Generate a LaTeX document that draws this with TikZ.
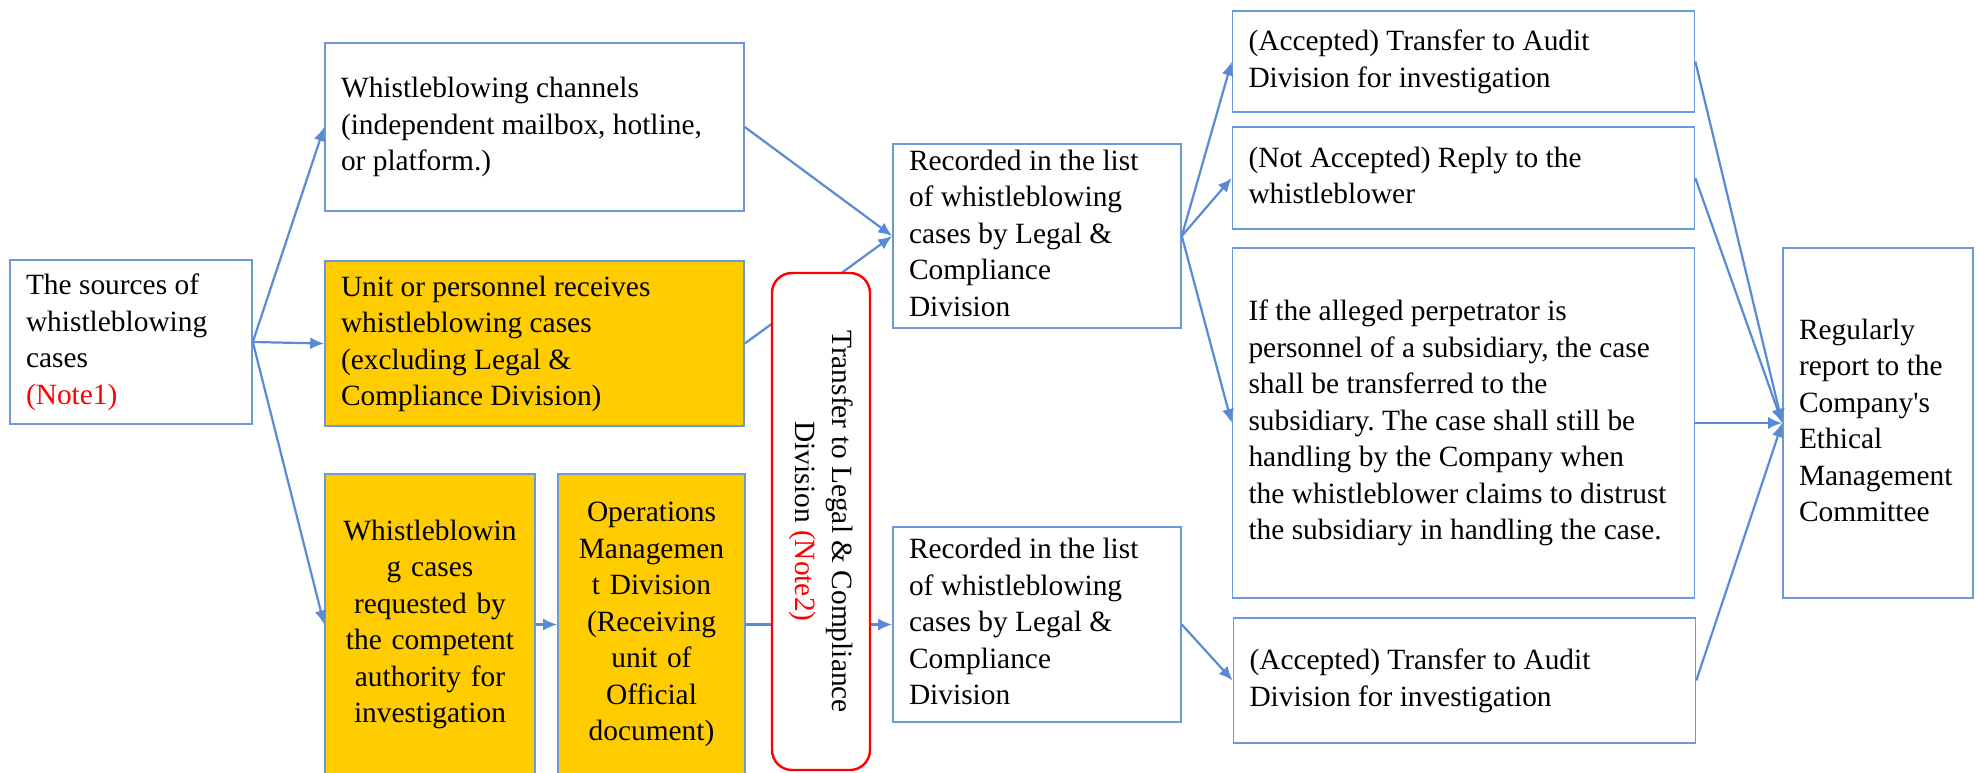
\documentclass[tikz,border=0pt]{standalone}
\usepackage{fontspec}
\setmainfont{Liberation Serif}
\frenchspacing
\usetikzlibrary{arrows.meta}
\definecolor{boxblue}{HTML}{6A9AD8}
\definecolor{lineblue}{HTML}{5A8AD6}
\definecolor{gold}{HTML}{FFCC00}
% Text links im Kasten, ohne Umbruch
\newcommand{\boxtext}[2]{\makebox[#1][l]{\begin{tabular}{@{}l@{}}#2\end{tabular}}}

\begin{document}
\begin{tikzpicture}[x=0.5pt,y=-0.5pt,
    font=\fontsize{14.7pt}{18.25pt}\selectfont,
    box/.style={draw=boxblue,line width=0.8pt,fill=white,inner xsep=8pt,inner ysep=0pt},
    goldbox/.style={box,fill=gold,align=center,inner xsep=4pt},
    notebox/.style={draw=red,line width=1.2pt,fill=white,rounded corners=10pt,rotate=-90,align=center},
    arr/.style={draw=lineblue,line width=1.1pt,-{Latex[length=7pt,width=6pt]}}]
    \useasboundingbox (0,0) rectangle (1977,772);
    % Quellen
    \node[box,minimum height=82pt] (src) at (131,342)
        {\boxtext{105pt}{The sources of\\whistleblowing\\cases\\\textcolor{red}{(Note1)}}};
    \node[box,minimum height=84pt] (chan) at (534.5,127)
        {\boxtext{193.5pt}{Whistleblowing channels\\(independent mailbox, hotline,\\or platform.)}};
    \node[box,fill=gold,minimum height=82.5pt] (unit) at (534.5,343.5)
        {\boxtext{193.5pt}{Unit or personnel receives\\whistleblowing cases\\(excluding Legal \&\\Compliance Division)}};
    \node[goldbox,text width=97pt,minimum height=150.5pt] (req) at (430,624.5)
        {Whistleblowin\\g cases\\requested by\\the competent\\authority for\\investigation};
    \node[goldbox,text width=85.5pt,minimum height=150.5pt] (ops) at (651.5,624.5)
        {Operations\\Managemen\\t Division\\(Receiving\\unit of\\Official\\document)};
    % Erfassung
    \node[box,minimum height=92pt] (rec1) at (1037,236)
        {\boxtext{128pt}{Recorded in the list\\of whistleblowing\\cases by Legal \&\\Compliance\\Division}};
    \node[box,minimum height=97.5pt] (rec2) at (1037,624.5)
        {\boxtext{128pt}{Recorded in the list\\of whistleblowing\\cases by Legal \&\\Compliance\\Division}};
    % Bearbeitung
    \node[box,minimum height=50.5pt] (acc1) at (1463.5,61.5)
        {\boxtext{215pt}{(Accepted) Transfer to Audit\\Division for investigation}};
    \node[box,minimum height=51pt] (nacc) at (1463.5,178)
        {\boxtext{215pt}{(Not Accepted) Reply to the\\whistleblower}};
    \node[box,minimum height=175pt] (ifbox) at (1463.5,423)
        {\boxtext{215pt}{If the alleged perpetrator is\\personnel of a subsidiary, the case\\shall be transferred to the\\subsidiary. The case shall still be\\handling by the Company when\\the whistleblower claims to distrust\\the subsidiary in handling the case.}};
    \node[box,minimum height=62.5pt] (acc2) at (1464.5,680.5)
        {\boxtext{215pt}{(Accepted) Transfer to Audit\\Division for investigation}};
    \node[box,minimum height=175pt] (com) at (1878,423)
        {\boxtext{79pt}{Regularly\\report to the\\Company\textquotesingle s\\Ethical\\Management\\Committee}};
    % Pfeile
    \foreach \n in {chan,unit,req}
        \draw[arr] (src.east) -- (\n.west);
    \draw[arr] (req) -- (ops);
    \draw[arr] (chan.east) -- (rec1.west);
    \draw[arr] (unit.east) -- (rec1.west);
    \draw[arr] (ops) -- (rec2);
    \foreach \n in {acc1,nacc,ifbox}
        \draw[arr] (rec1.east) -- (\n.west);
    \draw[arr] (rec2.east) -- (acc2.west);
    \foreach \n in {acc1,nacc,ifbox,acc2}
        \draw[arr] (\n.east) -- (com.west);
    % Weiterleitung (liegt ueber den Linien)
    \node[notebox,minimum width=248.5pt,minimum height=49pt] (trans) at (821,521.5)
        {Transfer to Legal \& Compliance\\Division \textcolor{red}{(Note2)}};
\end{tikzpicture}
\end{document}
